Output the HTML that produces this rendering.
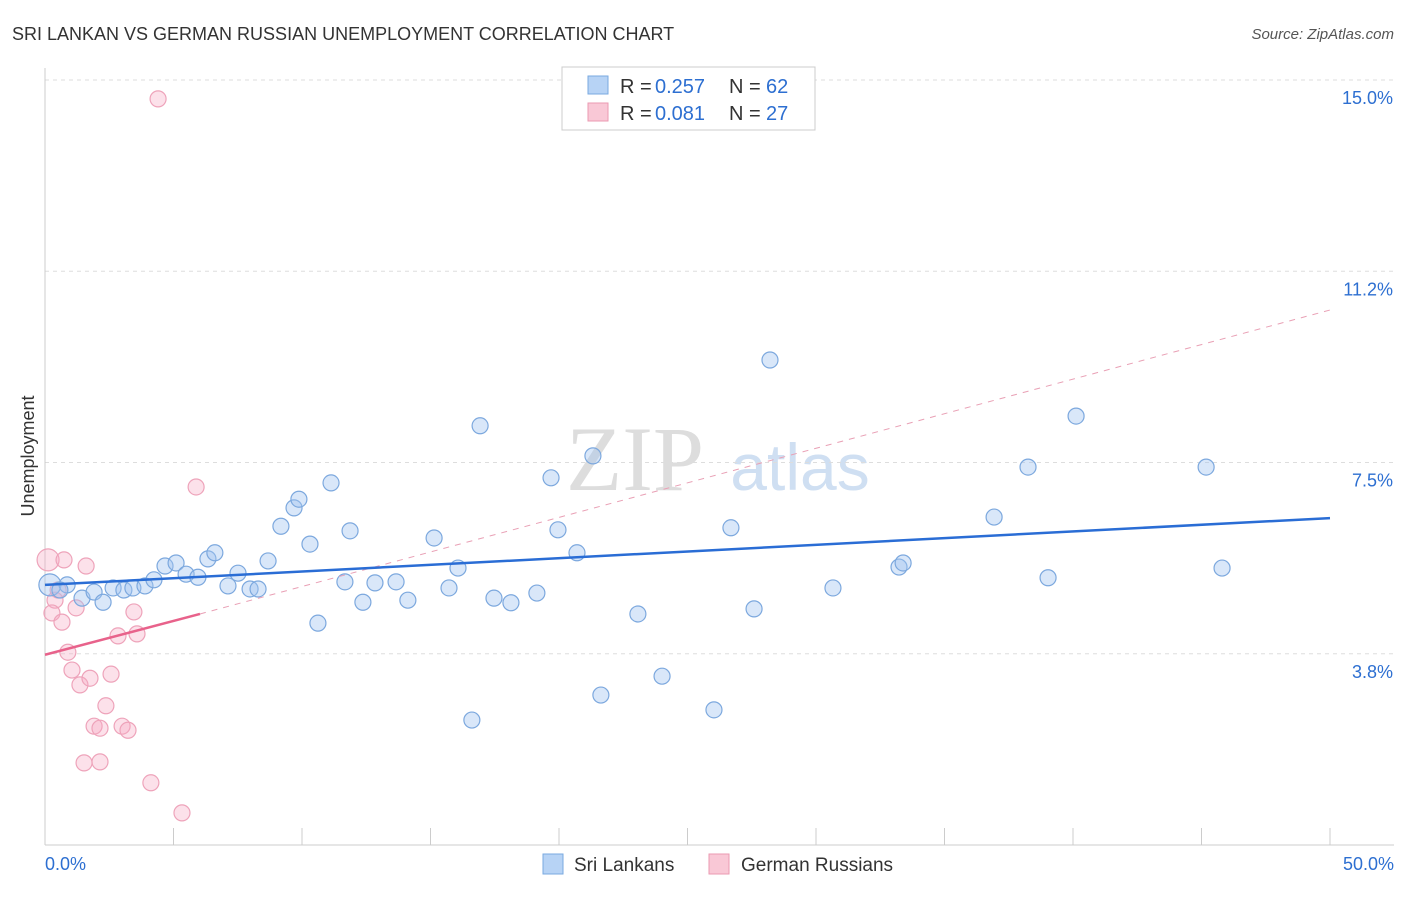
<!DOCTYPE html>
<html><head><meta charset="utf-8"><style>
body{margin:0;background:#fff;font-family:"Liberation Sans",sans-serif;}
svg text{font-family:"Liberation Sans",sans-serif;}
</style></head><body>
<svg width="1406" height="892" id="c">
<text x="12" y="40" font-size="18" fill="#333">SRI LANKAN VS GERMAN RUSSIAN UNEMPLOYMENT CORRELATION CHART</text>
<text x="1394" y="39" font-size="15" fill="#555" font-style="italic" text-anchor="end">Source: ZipAtlas.com</text>
<text x="34" y="456" font-size="18" fill="#333" text-anchor="middle" transform="rotate(-90 34 456)">Unemployment</text>
<text x="635" y="490" font-size="92" fill="#ddd" text-anchor="middle" style="font-family:'Liberation Serif',serif">ZIP</text>
<text x="800" y="490" font-size="66" fill="#cfdff2" text-anchor="middle">atlas</text>
<g id="grid"></g><g id="marks"></g>
<rect x="562" y="67" width="253" height="63" fill="#fff" stroke="#ccc"/>
<rect x="588" y="76" width="20" height="18" fill="#b7d3f5" stroke="#7aa9e0"/>
<rect x="588" y="103" width="20" height="18" fill="#f9c8d6" stroke="#eb9ab2"/>
<g font-size="20">
<text x="620" y="93" fill="#333">R =</text><text x="655" y="93" fill="#2d6fd1">0.257</text>
<text x="729" y="93" fill="#333">N =</text><text x="766" y="93" fill="#2d6fd1">62</text></g>
<g font-size="20">
<text x="620" y="120" fill="#333">R =</text><text x="655" y="120" fill="#2d6fd1">0.081</text>
<text x="729" y="120" fill="#333">N =</text><text x="766" y="120" fill="#2d6fd1">27</text></g>
<rect x="543" y="854" width="20" height="20" fill="#b7d3f5" stroke="#7aa9e0"/>
<text x="574" y="871" font-size="19" fill="#333">Sri Lankans</text>
<rect x="709" y="854" width="20" height="20" fill="#f9c8d6" stroke="#eb9ab2"/>
<text x="741" y="871" font-size="19" fill="#333">German Russians</text>
</svg>
<script>
const blueX=[0.19,0.86,1.44,1.91,2.26,2.65,3.07,3.42,3.89,4.24,4.67,5.10,5.49,5.95,6.34,6.61,7.12,7.51,7.98,8.29,8.68,9.18,9.69,9.88,10.31,10.62,11.13,11.67,11.87,12.37,12.84,13.66,14.12,15.14,15.72,16.07,16.61,16.93,17.47,18.13,19.14,19.69,19.96,20.70,21.32,21.63,23.07,24.01,26.03,26.69,27.59,28.21,30.66,33.23,33.39,36.93,38.25,39.03,40.12,45.18,45.80,0.58];
const blueY=[5.10,5.10,4.84,4.96,4.76,5.04,5.00,5.04,5.08,5.20,5.47,5.53,5.31,5.25,5.61,5.73,5.08,5.33,5.02,5.02,5.57,6.25,6.61,6.78,5.90,4.35,7.10,5.16,6.16,4.76,5.14,5.16,4.80,6.02,5.04,5.43,2.45,8.22,4.84,4.75,4.94,7.20,6.18,5.73,7.63,2.94,4.53,3.31,2.65,6.22,4.63,9.51,5.04,5.45,5.53,6.43,7.41,5.24,8.41,7.41,5.43,5.00];
const pinkX=[0.12,0.39,0.27,0.66,0.74,1.21,1.60,0.89,1.05,1.36,1.75,2.57,2.37,1.91,2.14,3.00,3.23,2.84,3.46,3.58,1.52,2.14,4.12,5.33,4.40,5.88,0.51];
const pinkY=[5.59,4.80,4.55,4.37,5.59,4.65,5.47,3.78,3.43,3.14,3.27,3.35,2.73,2.33,2.29,2.33,2.25,4.10,4.57,4.14,1.61,1.63,1.22,0.63,14.63,7.02,5.00];
const yTicks=[15.0,11.25,7.5,3.75];
const yTickLabels=["15.0%","11.2%","7.5%","3.8%"];
const xTickVals=[0,5,10,15,20,25,30,35,40,45,50];
const blueTrend=[[0,5.10],[50,6.41]];
const pinkTrend=[[0,3.73],[6.03,4.53]];
const pinkDash=[[6.03,4.53],[50,10.49]];
const NS="http://www.w3.org/2000/svg";
const sx=v=>45+v*25.7, sy=v=>845-v*51.0;
const G=document.getElementById('grid'),M=document.getElementById('marks');
function mk(p,tag,a){const e=document.createElementNS(NS,tag);for(const k in a)e.setAttribute(k,a[k]);p.appendChild(e);return e;}
yTicks.forEach((t,i)=>{
 const l=mk(G,'line',{x1:45,x2:1394,y1:sy(t),y2:sy(t),stroke:'#ddd','stroke-dasharray':'4,4'});
 
 
 const tx=mk(G,'text',{x:1393,y:sy(t)+24,'font-size':18,fill:'#2d6fd1','text-anchor':'end'});tx.textContent=yTickLabels[i];
 
 
});
let ax=mk(G,'line',{x1:45,x2:45,y1:68,y2:845,stroke:'#ccc'});


ax=mk(G,'line',{x1:45,x2:1394,y1:845,y2:845,stroke:'#ccc'});


xTickVals.forEach(v=>{const l=mk(G,'line',{x1:sx(v),x2:sx(v),y1:828,y2:845,stroke:'#ccc'});
 
 });
let t=mk(G,'text',{x:45,y:870,'font-size':18,fill:'#2d6fd1'});t.textContent='0.0%';


t=mk(G,'text',{x:1394,y:870,'font-size':18,fill:'#2d6fd1','text-anchor':'end'});t.textContent='50.0%';


pinkX.forEach((x,i)=>{const c=mk(M,'circle',{cx:sx(x),cy:sy(pinkY[i]),r:i==0?11:8,fill:'rgba(246,170,195,0.35)',stroke:'#eea3ba','stroke-width':1.2});
 
 });
blueX.forEach((x,i)=>{const c=mk(M,'circle',{cx:sx(x),cy:sy(blueY[i]),r:i==0?11:8,fill:'rgba(160,196,240,0.4)',stroke:'#7ca8de','stroke-width':1.2});
 
 });
let L=mk(M,'line',{x1:sx(pinkDash[0][0]),y1:sy(pinkDash[0][1]),x2:sx(pinkDash[1][0]),y2:sy(pinkDash[1][1]),stroke:'#e9a0b5','stroke-dasharray':'6,6','stroke-width':1});


L=mk(M,'line',{x1:sx(pinkTrend[0][0]),y1:sy(pinkTrend[0][1]),x2:sx(pinkTrend[1][0]),y2:sy(pinkTrend[1][1]),stroke:'#e8628b','stroke-width':2.5});


L=mk(M,'line',{x1:sx(blueTrend[0][0]),y1:sy(blueTrend[0][1]),x2:sx(blueTrend[1][0]),y2:sy(blueTrend[1][1]),stroke:'#2a6dd5','stroke-width':2.5});


</script>
</body></html>
